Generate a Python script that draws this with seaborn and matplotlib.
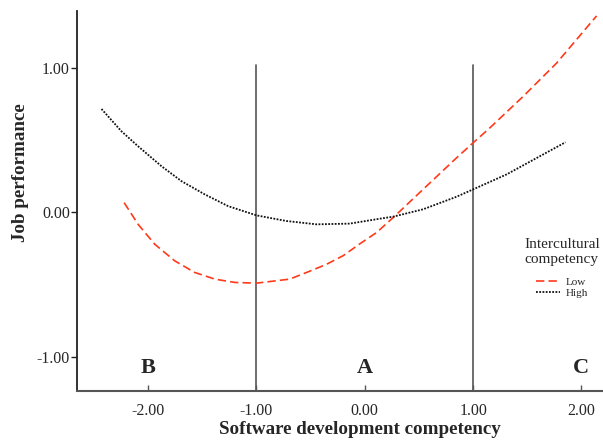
import matplotlib
matplotlib.use("Agg")
import matplotlib.pyplot as plt
import seaborn as sns
import pandas as pd

# Data
low_x = [-2.222, -2.093, -1.939, -1.754, -1.570, -1.385, -1.200, -1.000, -0.693, -0.538,
         -0.355, -0.200, -0.050, 0.108, 0.261, 0.538, 0.847, 1.000, 1.154, 1.462, 1.770, 2.140]
low_y = [0.067, -0.083, -0.221, -0.336, -0.416, -0.462, -0.485, -0.490, -0.462, -0.416,
         -0.360, -0.300, -0.220, -0.140, -0.037, 0.159, 0.377, 0.481, 0.584, 0.802, 1.032, 1.359]
high_x = [-2.431, -2.247, -2.093, -1.877, -1.693, -1.477, -1.262, -1.000, -0.723, -0.446,
          -0.139, 0.139, 0.261, 0.538, 0.847, 1.000, 1.308, 1.616, 1.853]
high_y = [0.715, 0.561, 0.457, 0.319, 0.216, 0.124, 0.043, -0.021, -0.060, -0.083,
          -0.078, -0.044, -0.030, 0.021, 0.108, 0.159, 0.262, 0.388, 0.485]
group_labels = ["Low", "High"]
x_ticks = [-2.0, -1.0, 0.0, 1.0, 2.0]
x_ticklabels = ["-2.00", "-1.00", "0.00", "1.00", "2.00"]
y_ticks = [-1.0, 0.0, 1.0]
y_ticklabels = ["-1.00", "0.00", "1.00"]
region_x = [-2.0, 0.0, 2.0]
region_labels = ["B", "A", "C"]
divider_x = [-1.0, 1.0]

sns.set_theme(style="white")
plt.rcParams['font.family'] = ['Liberation Serif', 'DejaVu Serif']

df = pd.concat([
    pd.DataFrame({"x": low_x, "y": low_y, "group": group_labels[0]}),
    pd.DataFrame({"x": high_x, "y": high_y, "group": group_labels[1]}),
])

fig = plt.figure(figsize=(6.03, 4.43), dpi=100)
ax = fig.add_axes([76.7 / 603, 1 - 390.7 / 443, (602 - 76.7) / 603, (390.7 - 11) / 443])

sns.lineplot(data=df[df.group == group_labels[0]], x="x", y="y", color="#ff3a1a",
             linewidth=1.2, ax=ax, sort=True, label=group_labels[0])
sns.lineplot(data=df[df.group == group_labels[1]], x="x", y="y", color="#111111",
             linewidth=1.3, ax=ax, sort=True, label=group_labels[1])
lines = ax.get_lines()
lines[0].set_dashes([5, 2.5])
lines[1].set_dashes([1, 0.8])
for ln in lines:
    ln.set_solid_joinstyle("round")
    ln.set_dash_joinstyle("round")

ax.set_xlim(-2.66, 2.19)
ax.set_ylim(-1.234, 1.393)

for dx in divider_x:
    ax.plot([dx, dx], [ax.get_ylim()[0], 1.016], color="#555555", linewidth=1.2, zorder=1)

for rx, rl in zip(region_x, region_labels):
    ax.text(rx, -1.08, rl, ha="center", va="center", fontsize=16, fontweight="bold")

ax.set_xticks(x_ticks)
ax.set_xticklabels(x_ticklabels)
ax.set_yticks(y_ticks)
ax.set_yticklabels(y_ticklabels)
ax.tick_params(axis="x", direction="in", length=4, width=1, color="#555555", labelsize=11.5, pad=9)
ax.tick_params(axis="y", direction="out", length=4, width=1, color="#222222", labelsize=11.5, pad=1)
ax.tick_params(axis="x", bottom=True)
ax.tick_params(axis="y", left=True)

for s in ["top", "right"]:
    ax.spines[s].set_visible(False)
ax.spines["left"].set_color("#222222")
ax.spines["left"].set_linewidth(1.3)
ax.spines["bottom"].set_color("#555555")
ax.spines["bottom"].set_linewidth(1.5)

ax.set_xlabel("Software development competency", fontsize=13.7, fontweight="bold")
ax.set_ylabel("Job performance", fontsize=13.7, fontweight="bold")
ax_w = 602 - 76.7
ax_h = 390.7 - 11
ax.xaxis.set_label_coords((360 - 76.7) / ax_w, -(430 - 390.7) / ax_h)
ax.xaxis.label.set_va("center")
ax.yaxis.set_label_coords((20 - 76.7) / ax_w, (390.7 - 173) / ax_h)
ax.yaxis.label.set_va("center")

leg = ax.legend(title="Intercultural\ncompetency", loc="upper center",
                bbox_to_anchor=(562 / 603, 1 - 230 / 443), bbox_transform=fig.transFigure,
                frameon=False, fontsize=8, title_fontsize=11, handlelength=2.2,
                handletextpad=0.5, labelspacing=0.1, borderpad=0.2)
leg._legend_box.sep = 8

fig.savefig("out.png", dpi=100)
